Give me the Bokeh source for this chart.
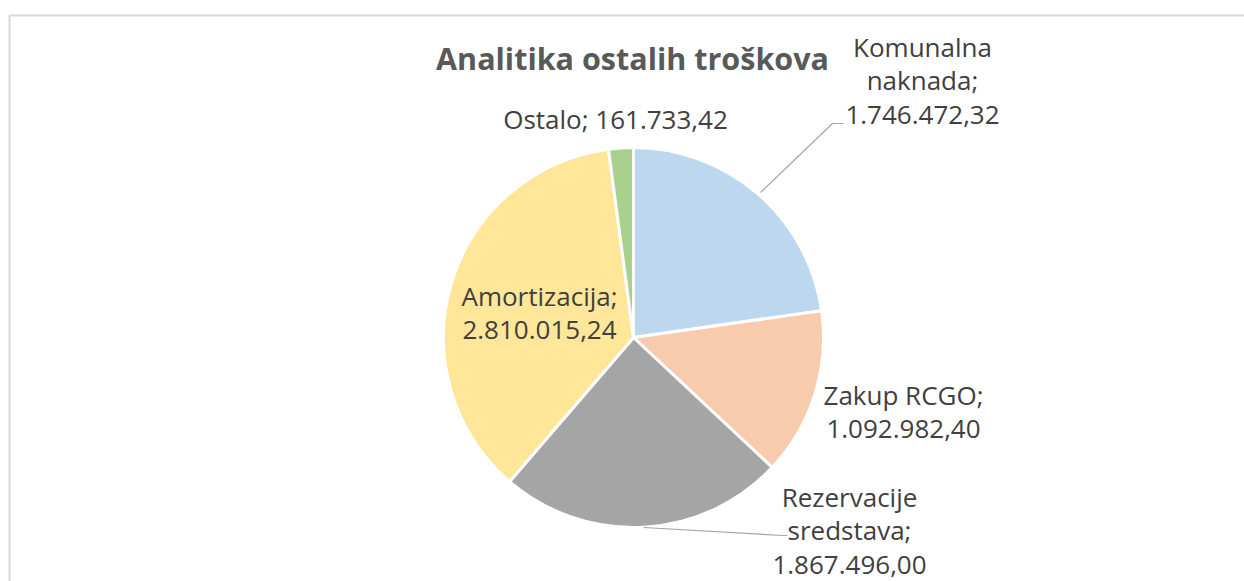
import math
from bokeh.plotting import figure
from bokeh.models import Range1d, ColumnDataSource
from bokeh.core.properties import value
from bokeh.embed import file_html
from bokeh.resources import INLINE

# ---- data ----
categories = ["Komunalna naknada", "Zakup RCGO", "Rezervacije sredstava", "Amortizacija", "Ostalo"]
values = [1746472.32, 1092982.40, 1867496.00, 2810015.24, 161733.42]
label_texts = ["Komunalna\nnaknada;\n1.746.472,32", "Zakup RCGO;\n1.092.982,40",
               "Rezervacije\nsredstava;\n1.867.496,00", "Amortizacija;\n2.810.015,24",
               "Ostalo; 161.733,42"]
colors = ["#BDD7EE", "#F8CBAD", "#A5A5A5", "#FFE699", "#A9D18E"]
title_text = "Analitika ostalih troškova"

# ---- layout (screen-like coordinates: x = px, y = -px) ----
W, H = 1244, 581
p = figure(width=W, height=H, output_backend="svg", toolbar_location=None,
           x_range=Range1d(0, W), y_range=Range1d(-H, 0),
           min_border=0, outline_line_color=None)
p.axis.visible = False
p.grid.visible = False
p.background_fill_color = "white"

# chart border
p.line(x=[9, 9, 1260], y=[-700, -15, -15], line_color="#d9d9d9", line_width=2)

cx, cy, r = 633, -337, 190
total = sum(values)
starts, ends = [], []
cum = 0.0
for v in values:
    starts.append(math.pi / 2 - 2 * math.pi * cum / total)
    cum += v
    ends.append(math.pi / 2 - 2 * math.pi * cum / total)

src = ColumnDataSource(dict(start=starts, end=ends, color=colors, cat=categories))
p.wedge(x=cx, y=cy, radius=r, start_angle="start", end_angle="end", direction="clock",
        fill_color="color", line_color="white", line_width=3, source=src)

# leader lines
p.line(x=[760, 832, 843], y=[-192, -123, -123], line_color="#a6a6a6", line_width=1.2)
p.line(x=[643, 782, 787], y=[-527, -535, -535], line_color="#a6a6a6", line_width=1.2)

# labels
lx = [922, 903, 849, 539, 615]
ly = [-80, -411, -530, -312, -118]
p.text(x=lx, y=ly, text=label_texts, text_font=value("Open Sans"), text_font_size="26px",
       text_color="#404040", text_align="center", text_baseline="middle", text_line_height=0.93)

p.text(x=[632], y=[-57], text=[title_text], text_font=value("Open Sans"), text_font_size="30.5px",
       text_font_style="bold", text_color="#595959", text_align="center", text_baseline="middle")

open("out.html", "w").write(file_html(p, INLINE))
